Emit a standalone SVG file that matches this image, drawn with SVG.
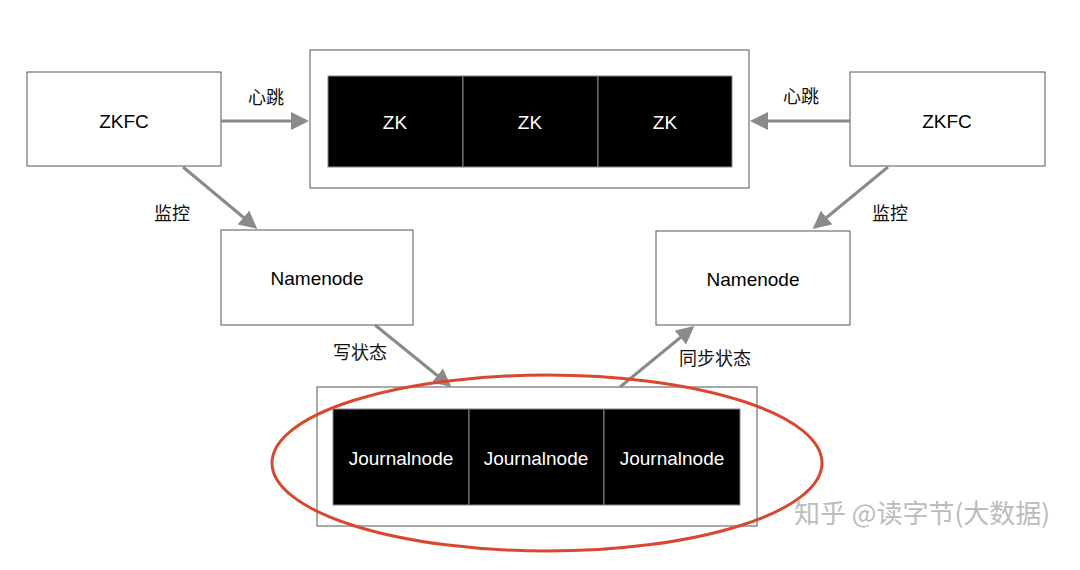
<svg xmlns="http://www.w3.org/2000/svg" width="1080" height="570" viewBox="0 0 1080 570">
<defs>
<marker id="ah" markerWidth="6" markerHeight="6" refX="5" refY="3" orient="auto" markerUnits="strokeWidth"><path d="M0,0 L6,3 L0,6 z" fill="#8a8a8a"/></marker>
<style>
.box{fill:#fff;stroke:#555;stroke-width:1}
.blk{fill:#000;stroke:#888;stroke-width:1}
.t{font-family:"Liberation Sans","Noto Sans CJK SC",sans-serif;font-size:19px;text-anchor:middle;dominant-baseline:central}
.w{fill:#fff}
.lbl{font-family:"Noto Sans CJK SC",sans-serif;font-size:18px;text-anchor:middle;dominant-baseline:central;fill:#111}
.c{stroke:#8a8a8a;stroke-width:3;fill:none;marker-end:url(#ah)}
</style>
</defs>
<rect width="1080" height="570" fill="#fff"/>
<g id="zkfc1"><rect class="box" x="27" y="72" width="194" height="94"/><text class="t" x="124" y="121">ZKFC</text></g>
<g id="zkfc2"><rect class="box" x="850" y="72" width="195" height="94"/><text class="t" x="947" y="121">ZKFC</text></g>
<g id="zk"><rect class="box" x="310" y="50" width="439" height="138"/>
<rect class="blk" x="328" y="76" width="135" height="91"/><rect class="blk" x="463" y="76" width="135" height="91"/><rect class="blk" x="598" y="76" width="134" height="91"/>
<text class="t w" x="395" y="122">ZK</text><text class="t w" x="530" y="122">ZK</text><text class="t w" x="665" y="122">ZK</text></g>
<g id="nn1"><rect class="box" x="221" y="230" width="192" height="95"/><text class="t" x="317" y="278">Namenode</text></g>
<g id="nn2"><rect class="box" x="656" y="231" width="194" height="94"/><text class="t" x="753" y="279">Namenode</text></g>
<g id="jn"><rect class="box" x="317" y="387" width="440" height="139"/>
<rect class="blk" x="333" y="409" width="136" height="96"/><rect class="blk" x="469" y="409" width="135" height="96"/><rect class="blk" x="604" y="409" width="136" height="96"/>
<text class="t w" x="401" y="458">Journalnode</text><text class="t w" x="536" y="458">Journalnode</text><text class="t w" x="672" y="458">Journalnode</text></g>
<g id="connectors">
<line class="c" x1="221" y1="121" x2="306" y2="121"/>
<line class="c" x1="850" y1="121" x2="753" y2="121"/>
<line class="c" x1="183" y1="167" x2="255" y2="227"/>
<line class="c" x1="888" y1="167" x2="815" y2="227"/>
<line class="c" x1="375" y1="325" x2="449" y2="385"/>
<line class="c" x1="620" y1="387" x2="692" y2="328"/>
<text class="lbl" x="266" y="96">心跳</text>
<text class="lbl" x="801" y="95">心跳</text>
<text class="lbl" x="172" y="212">监控</text>
<text class="lbl" x="890" y="212">监控</text>
<text class="lbl" x="360" y="351">写状态</text>
<text class="lbl" x="715" y="357">同步状态</text>
</g>
<ellipse cx="547" cy="463" rx="275" ry="88" fill="none" stroke="#d9472f" stroke-width="3"/>
<text x="1050" y="523" font-family="Noto Sans CJK SC,sans-serif" font-size="26" text-anchor="end" fill="#bbb">知乎 @读字节(大数据)</text>
</svg>
